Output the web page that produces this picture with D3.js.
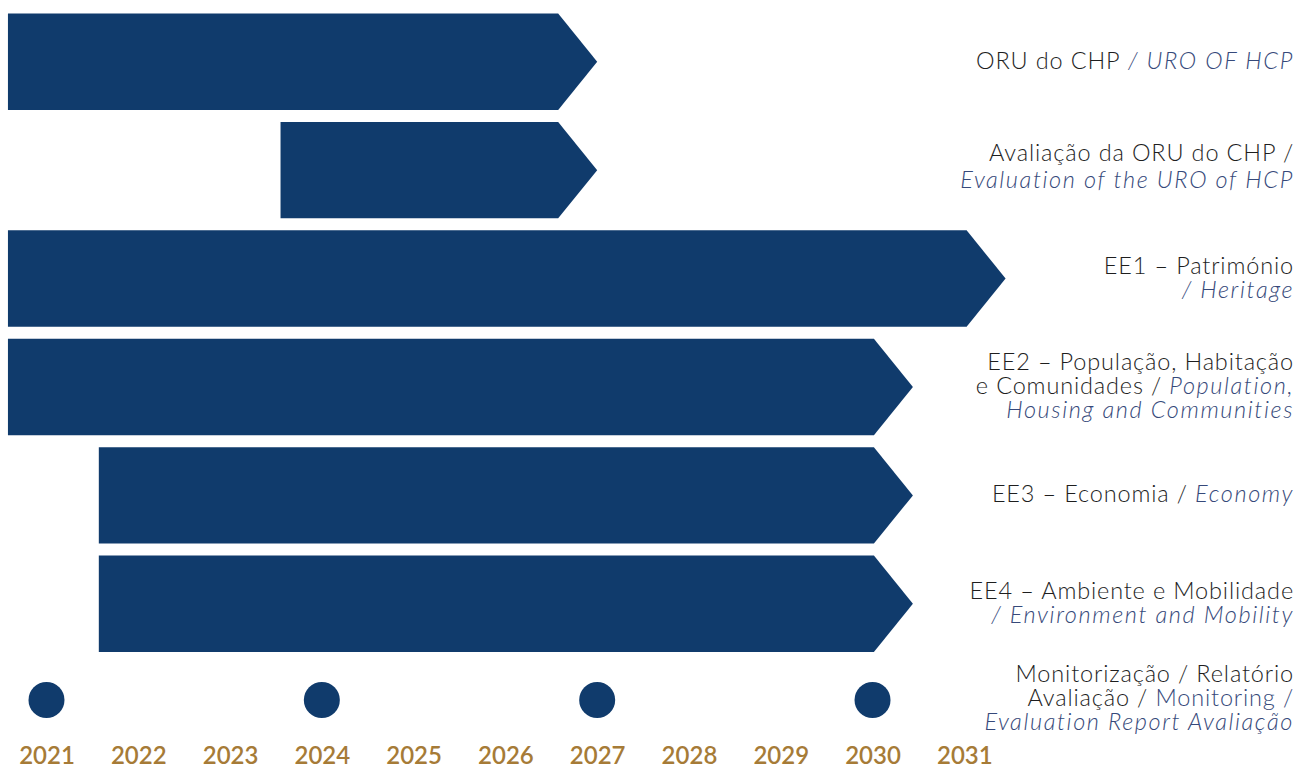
<!DOCTYPE html>
<html>
<head>
<meta charset="utf-8">
<script src="https://cdn.jsdelivr.net/npm/d3@7"></script>
<style>
  html, body { margin: 0; padding: 0; background: #ffffff; }
  svg { display: block; }
</style>
</head>
<body>
<svg id="chart" width="1295" height="767"></svg>
<script>
// Timeline of the strategic axes (start year -> end year, arrow tip at end)
const tasks = ["oru", "aval", "ee1", "ee2", "ee3", "ee4"];
const startYears = [2020.58, 2023.55, 2020.58, 2020.58, 2021.57, 2021.57];
const endYears   = [2027.0, 2027.0, 2031.45, 2030.44, 2030.44, 2030.44];

// Milestones: monitoring / evaluation reports
const milestoneYears = [2021, 2024, 2027, 2030];

// Year tick labels along the bottom
const tickYears = [2021, 2022, 2023, 2024, 2025, 2026, 2027, 2028, 2029, 2030, 2031];

// Row labels: each line is a list of [text, style] segments
// style: "pt" = Portuguese (dark), "en" = English (blue italic), "enu" = English (blue upright)
const taskLabels = [
  [[["ORU do CHP", "pt"], [" / URO OF HCP", "en"]]],
  [[["Avaliação da ORU do CHP /", "pt"]], [["Evaluation of the URO of HCP", "en"]]],
  [[["EE1 – Património", "pt"]], [["/ Heritage", "en"]]],
  [[["EE2 – População, Habitação", "pt"]], [["e Comunidades / ", "pt"], ["Population,", "en"]], [["Housing and Communities", "en"]]],
  [[["EE3 – Economia / ", "pt"], ["Economy", "en"]]],
  [[["EE4 – Ambiente e Mobilidade", "pt"]], [["/ Environment and Mobility", "en"]]]
];
const milestoneLabel = [
  [["Monitorização / Relatório", "pt"]],
  [["Avaliação / ", "pt"], ["Monitoring /", "enu"]],
  [["Evaluation Report Avaliação", "en"]]
];

const W = 1295, H = 767;
const barColor = "#103b6c";
const goldColor = "#a67b37";
const textDark = "#1e1e1e";
const textBlue = "#36497a";
const labelFont = "Lato, 'Open Sans', sans-serif";
const yearFont = "Lato, 'Open Sans', sans-serif";

const svg = d3.select("#chart");

const x = d3.scaleLinear().domain([2021, 2031]).range([46.5, 964.3]);
const y = d3.scaleBand().domain(tasks).range([7.5, 658]).paddingInner(0.11).paddingOuter(0.055);
const tip = 39;
const milestoneY = 700;
const labelRight = 1294;

// Arrow-shaped bars
const bars = tasks.map((t, i) => ({ id: t, start: startYears[i], end: endYears[i] }));
svg.append("g").selectAll("path").data(bars).join("path")
  .attr("fill", barColor)
  .attr("d", d => {
    const x0 = x(d.start), x1 = x(d.end);
    const y0 = y(d.id), h = y.bandwidth();
    const p = d3.path();
    p.moveTo(x0, y0);
    p.lineTo(x1 - tip, y0);
    p.lineTo(x1, y0 + h / 2);
    p.lineTo(x1 - tip, y0 + h);
    p.lineTo(x0, y0 + h);
    p.closePath();
    return p.toString();
  });

// Milestone dots
svg.append("g").selectAll("circle").data(milestoneYears).join("circle")
  .attr("cx", d => x(d)).attr("cy", milestoneY).attr("r", 18).attr("fill", barColor);

// Year axis (labels only)
const axis = d3.axisBottom(x).tickValues(tickYears).tickFormat(d3.format("d")).tickSize(0).tickPadding(0);
const gAxis = svg.append("g").attr("transform", "translate(0,747)").call(axis);
gAxis.select(".domain").remove();
gAxis.selectAll("text")
  .attr("fill", goldColor)
  .attr("font-family", yearFont)
  .attr("font-size", 24)
  .attr("font-weight", 600)
  .attr("dy", "0.72em");

// Right-aligned labels
function drawLabel(lines, cy, lh, offset) {
  const n = lines.length;
  const t = svg.append("text")
    .attr("text-anchor", "end")
    .attr("font-family", labelFont)
    .attr("font-size", 23.5)
    .attr("font-weight", 300)
    .attr("xml:space", "preserve");
  lines.forEach((segs, li) => {
    const base = cy + offset + (li - (n - 1) / 2) * lh;
    segs.forEach(([txt, style], si) => {
      const s = t.append("tspan").text(txt)
        .attr("fill", style === "pt" ? textDark : textBlue)
        .attr("font-style", style === "en" ? "italic" : "normal")
        .attr("letter-spacing", style === "en" ? 1.6 : 0.85);
      if (si === 0) s.attr("x", labelRight).attr("y", base);
    });
  });
}
tasks.forEach((t, i) => drawLabel(taskLabels[i], y(t) + y.bandwidth() / 2, i === 1 ? 27 : 24, i === 1 ? 4 : 7));
drawLabel(milestoneLabel, milestoneY, 24, 6);
</script>
</body>
</html>
